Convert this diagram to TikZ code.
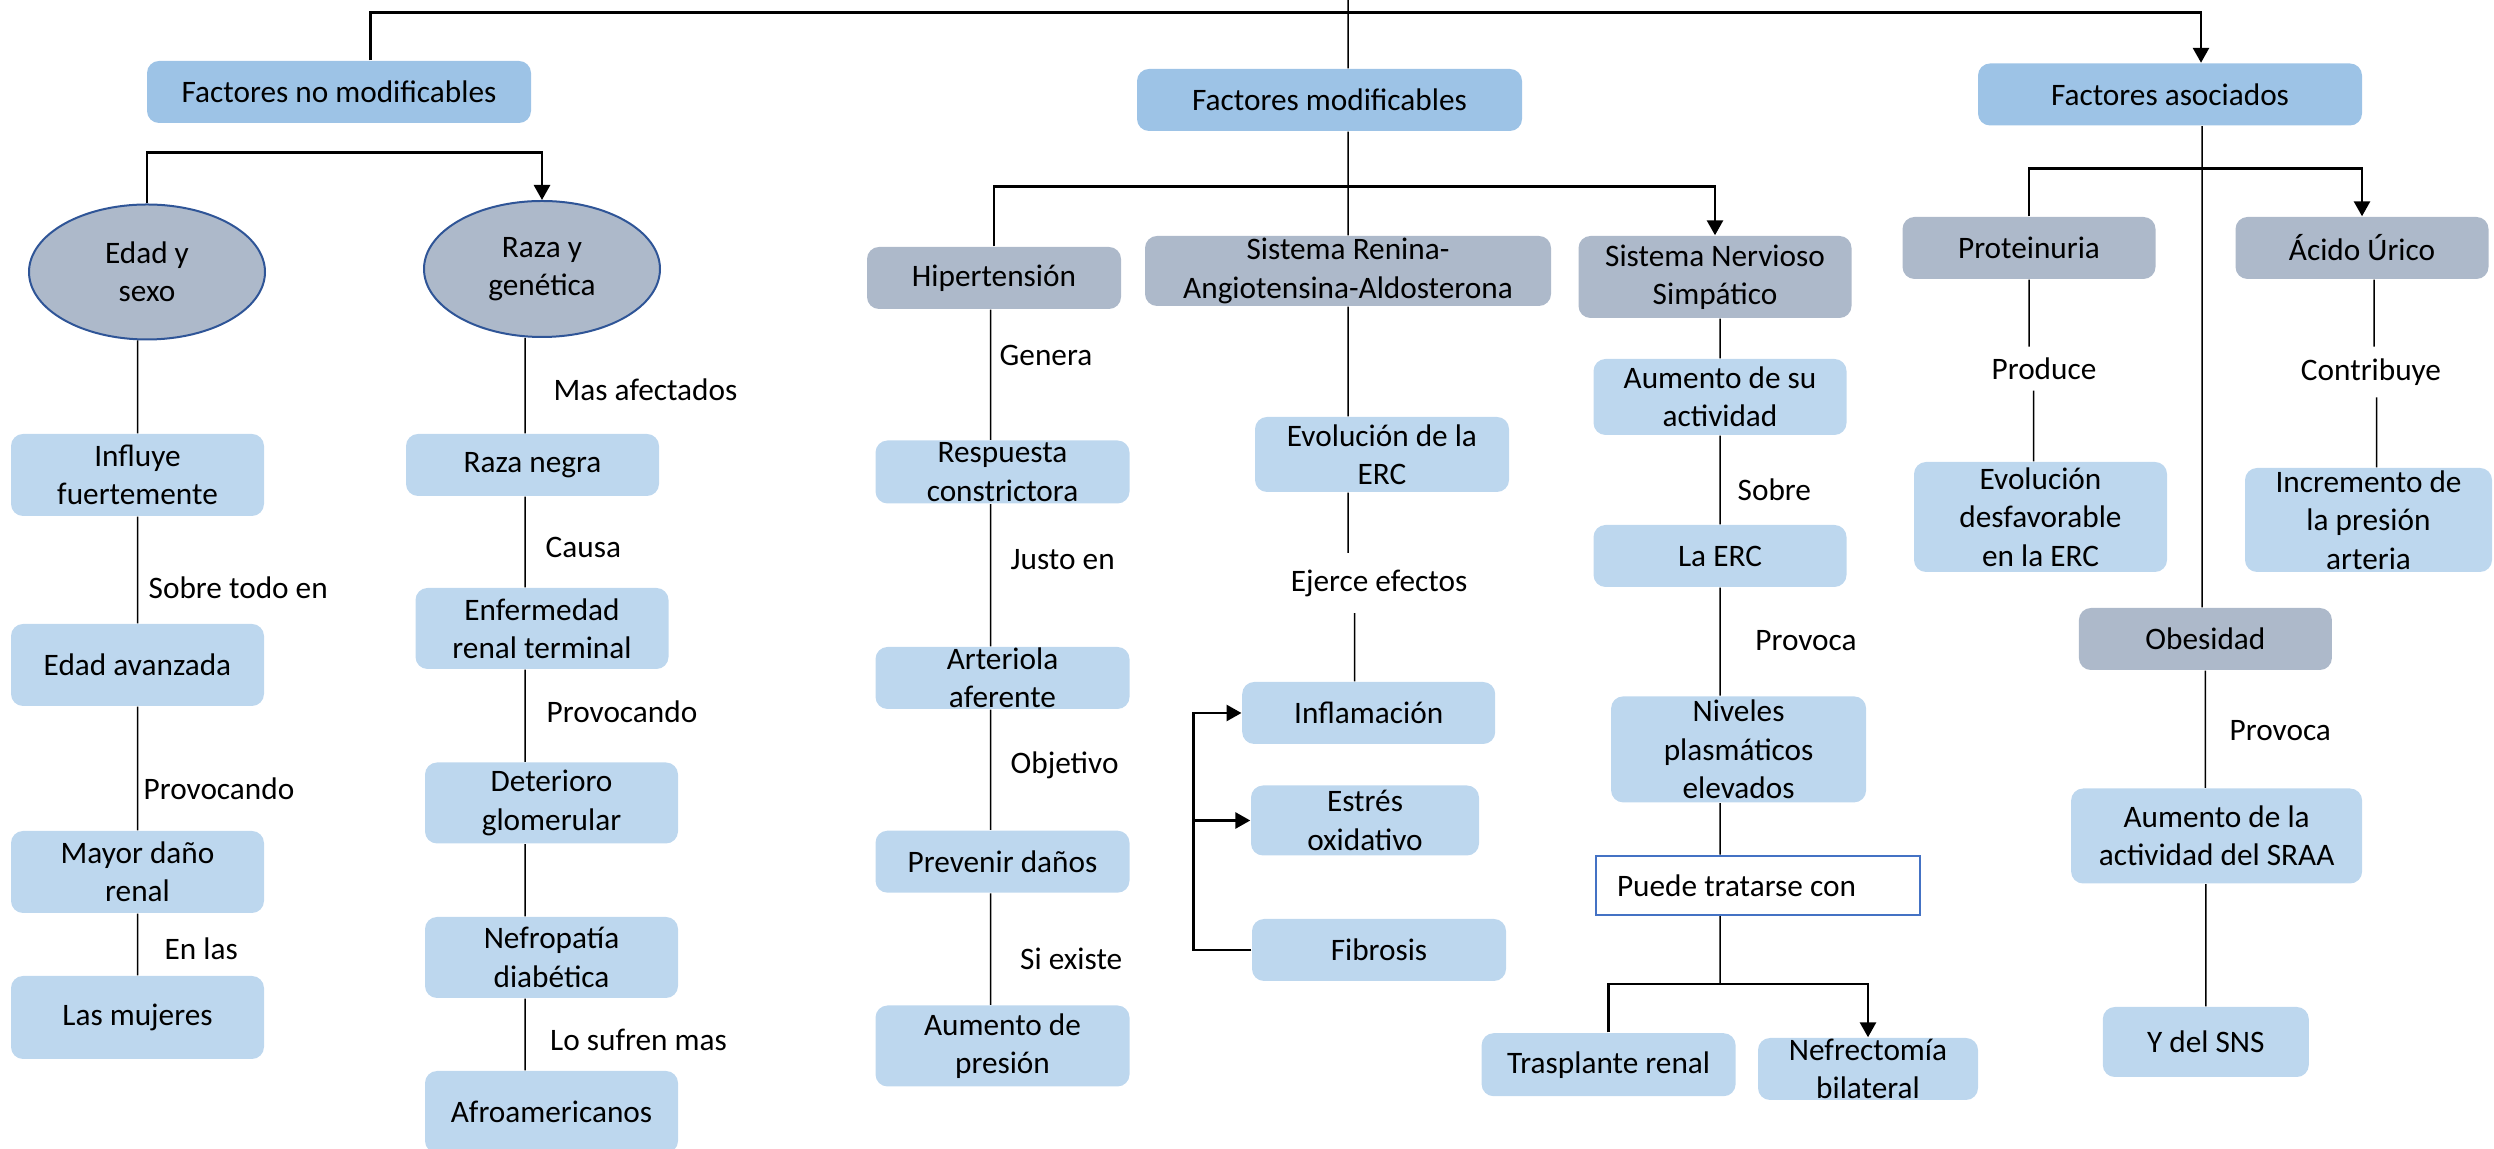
\documentclass[tikz,border=0pt]{standalone}
\usepackage{fontspec}
\setmainfont{Carlito}
\usepackage{tikz}
\usetikzlibrary{arrows.meta,shapes}

\definecolor{azulclaro}{HTML}{BDD7EE}
\definecolor{azulfactor}{HTML}{9DC3E6}
\definecolor{grisazul}{HTML}{ADB9CA}
\definecolor{azuloscuro}{HTML}{2F5597}
\definecolor{azulborde}{HTML}{4472C4}

\tikzset{
    caja/.style={rectangle, rounded corners=1.2mm, fill=azulclaro, inner sep=0pt,
        align=center, minimum width=25.3mm, minimum height=6.2mm},
    factor/.style={caja, fill=azulfactor, minimum width=38.4mm},
    grupo/.style={caja, fill=grisazul},
    ovalo/.style={ellipse, fill=grisazul, draw=azuloscuro, line width=0.2mm, inner sep=0pt,
        align=center, minimum width=23.6mm, minimum height=13.5mm},
    recuadro/.style={rectangle, fill=white, draw=azulborde, line width=0.25mm, inner ysep=0pt,
        inner xsep=2.1mm, text width=28.2mm, align=flush left, minimum height=5.9mm},
    etiq/.style={inner sep=0pt, anchor=west},
    hueco/.style={inner sep=0pt},
    linea/.style={line width=0.15mm},
    rama/.style={line width=0.28mm},
}

\begin{document}
\begin{tikzpicture}[x=0.1mm,y=-0.1mm,>={Triangle[length=1.5mm,width=1.6mm]},
    font=\fontsize{8.9pt}{10.9pt}\selectfont]
    \useasboundingbox (0,0) rectangle (2494,1149);

    % factores
    \node[factor] (fnm) at (339,92) {Factores no modificables};
    \node[factor, minimum width=38.5mm] (fm) at (1329.5,100) {Factores modificables};
    \node[factor] (fa) at (2170,94.5) {Factores asociados};

    % no modificables
    \node[ovalo] (edad) at (147,272) {Edad y\\sexo};
    \node[ovalo, minimum height=13.6mm] (raza) at (542,269) {Raza y\\genética};
    \node[caja, minimum height=8.2mm] (influye) at (137.5,475) {Influye\\fuertemente};
    \node[caja, minimum height=8.2mm] (avanzada) at (137.5,665) {Edad avanzada};
    \node[caja, minimum height=8.2mm] (mayor) at (137.5,872) {Mayor daño\\renal};
    \node[caja, minimum height=8.3mm] (mujeres) at (137.5,1017.5) {Las mujeres};
    \node[caja] (negra) at (532.5,465) {Raza negra};
    \node[caja, minimum height=8.1mm] (terminal) at (542,628.5) {Enfermedad\\renal terminal};
    \node[caja, minimum height=8.1mm] (deterioro) at (551.5,803) {Deterioro\\glomerular};
    \node[caja, minimum height=8.1mm] (nefro) at (551.5,957.5) {Nefropatía\\diabética};
    \node[caja, minimum height=8.2mm] (afro) at (551.5,1112) {Afroamericanos};

    % modificables
    \node[grupo, minimum width=25.4mm] (hiper) at (994,278) {Hipertensión};
    \node[grupo, minimum width=40.6mm, minimum height=7mm] (sraa) at (1348,271) {Sistema Renina-\\Angiotensina-Aldosterona};
    \node[grupo, minimum width=27.3mm, minimum height=8.2mm] (sns) at (1715,277) {Sistema Nervioso\\Simpático};
    \node[caja, minimum width=25.4mm, minimum height=6.3mm] (resp) at (1002.5,472) {Respuesta\\constrictora};
    \node[caja, minimum width=25.4mm] (arteriola) at (1002.5,678) {Arteriola\\aferente};
    \node[caja, minimum width=25.4mm] (prevenir) at (1002.5,861.7) {Prevenir daños};
    \node[caja, minimum width=25.4mm, minimum height=8.1mm] (presion) at (1002.5,1046) {Aumento de\\presión};
    \node[caja, minimum width=25.4mm, minimum height=7.5mm] (evol) at (1382,454.5) {Evolución de la\\ERC};
    \node[hueco, minimum height=5.9mm] (ejerce) at (1379,583) {Ejerce efectos};
    \node[caja] (inflam) at (1368.7,713) {Inflamación};
    \node[caja, minimum width=22.8mm, minimum height=7mm] (estres) at (1365,820.5) {Estrés\\oxidativo};
    \node[caja, minimum width=25.4mm] (fibrosis) at (1379,950) {Fibrosis};
    \node[caja, minimum height=7.6mm] (actividad) at (1720,397) {Aumento de su\\actividad};
    \node[caja] (erc) at (1720,556) {La ERC};
    \node[caja, minimum width=25.5mm, minimum height=10.6mm] (niveles) at (1738.6,749.4) {Niveles\\plasmáticos\\elevados};
    \node[recuadro] (puede) at (1758,885.3) {Puede tratarse con};
    \node[caja, minimum width=25.4mm, minimum height=6.3mm] (trasplante) at (1608.6,1064.7) {Trasplante renal};
    \node[caja, minimum width=22mm] (nefrec) at (1868,1069) {Nefrectomía\\bilateral};

    % asociados
    \node[grupo] (prot) at (2029,248) {Proteinuria};
    \node[grupo] (acido) at (2362,248) {Ácido Úrico};
    \node[hueco, minimum height=4.25mm] (produce) at (2044,368.7) {Produce};
    \node[hueco, minimum height=4.95mm] (contrib) at (2371,372) {Contribuye};
    \node[caja, minimum height=11mm] (desfav) at (2040.5,517) {Evolución\\desfavorable\\en la ERC};
    \node[caja, minimum width=24.7mm, minimum height=10.4mm] (incremento) at (2368.5,520) {Incremento de\\la presión\\arteria};
    \node[grupo] (obesidad) at (2205.4,639) {Obesidad};
    \node[caja, minimum width=29.1mm, minimum height=9.5mm] (aumsraa) at (2216.6,836) {Aumento de la\\actividad del SRAA};
    \node[caja, minimum width=20.6mm, minimum height=7mm] (ysns) at (2205.8,1042) {Y del SNS};

    % etiquetas
    \node[etiq] (lmas) at (553,390) {Mas afectados};
    \node[etiq] (lcausa) at (545,547) {Causa};
    \node[etiq] (lsobretodo) at (148,588) {Sobre todo en};
    \node[etiq] (lprovedad) at (143,789) {Provocando};
    \node[etiq] (lenlas) at (164,949) {En las};
    \node[etiq] (lprovraza) at (546,712) {Provocando};
    \node[etiq] (lsufren) at (549.5,1040) {Lo sufren mas};
    \node[etiq] (lgenera) at (999,355) {Genera};
    \node[etiq] (ljusto) at (1010,559.5) {Justo en};
    \node[etiq] (lobjetivo) at (1010,765) {Objetivo};
    \node[etiq] (lsiexiste) at (1019.5,959) {Si existe};
    \node[etiq] (lsobre) at (1737,490) {Sobre};
    \node[etiq] (lprovsns) at (1754.7,641) {Provoca};
    \node[etiq] (lprovobes) at (2229,731) {Provoca};

    \coordinate (raiz) at (1348,0);

    % ramas con flecha
    \draw[rama,->] ([xshift=3.15mm]fnm.north) -- ++(0,-47.6) -| ([xshift=3.1mm]fa.north);
    \draw[rama,->] (edad.north) -- ++(0,-51) -| (raza.north);
    \draw[rama,->] (hiper.north) -- ++(0,-59.5) -| (sns.north);
    \draw[rama,->] (prot.north) -- ++(0,-47.5) -| (acido.north);
    \draw[rama,->] (fibrosis.west) -- ++(-58,0) coordinate (nudoF) |- (inflam.west);
    \draw[rama,->] (nudoF |- estres.west) -- (estres.west);
    \draw[rama,->] (trasplante.north) -- ++(0,-48.5) coordinate (nudoT) -| (nefrec.north);

    % lineas simples
    \path[linea, draw]
        (raiz) -- (raiz |- fm.north)
        (sraa.north) -- (sraa.north |- fm.south)
        (sraa.south) -- (sraa.south |- evol.north)
        (sraa.south |- evol.south) -- (sraa.south |- ejerce.north)
        ([xshift=-1.4mm]inflam.north) -- ([xshift=-1.4mm]inflam.north |- ejerce.south)
        (influye.north) -- (influye.north |- edad.south)
        (influye.south) -- (influye.south |- avanzada.north)
        (avanzada.south) -- (avanzada.south |- mayor.north)
        (mayor.south) -- (mayor.south |- mujeres.north)
        ([xshift=-1.7mm]raza.south) -- ([xshift=-0.75mm]negra.north)
        ([xshift=-0.75mm]negra.south) -- ([xshift=-1.7mm]terminal.north)
        ([xshift=-1.7mm]terminal.south) -- ([xshift=-2.65mm]deterioro.north)
        ([xshift=-2.65mm]deterioro.south) -- ([xshift=-2.65mm]nefro.north)
        ([xshift=-2.65mm]nefro.south) -- ([xshift=-2.65mm]afro.north)
        ([xshift=-0.35mm]hiper.south) -- ([xshift=-1.2mm]resp.north)
        ([xshift=-1.2mm]resp.south) -- ([xshift=-1.2mm]arteriola.north)
        ([xshift=-1.2mm]arteriola.south) -- ([xshift=-1.2mm]prevenir.north)
        ([xshift=-1.2mm]prevenir.south) -- ([xshift=-1.2mm]presion.north)
        (actividad.north) -- (actividad.north |- sns.south)
        (erc.north) -- (erc.north |- actividad.south)
        (erc.south) -- (erc.south |- niveles.north)
        (erc.south |- niveles.south) -- (erc.south |- puede.north)
        (erc.south |- puede.south) -- (erc.south |- nudoT)
        (prot.south) -- (prot.south |- produce.north)
        ([xshift=-0.7mm]desfav.north) -- ([xshift=-0.7mm]desfav.north |- produce.south)
        ([xshift=1.2mm]acido.south) -- ([xshift=1.2mm]acido.south |- contrib.north)
        ([xshift=0.8mm]incremento.north) -- ([xshift=0.8mm]incremento.north |- contrib.south)
        ([xshift=3.2mm]fa.south) -- ([xshift=3.2mm]fa.south |- obesidad.north)
        (obesidad.south) -- (obesidad.south |- aumsraa.north)
        (ysns.north) -- (ysns.north |- aumsraa.south);
\end{tikzpicture}
\end{document}
